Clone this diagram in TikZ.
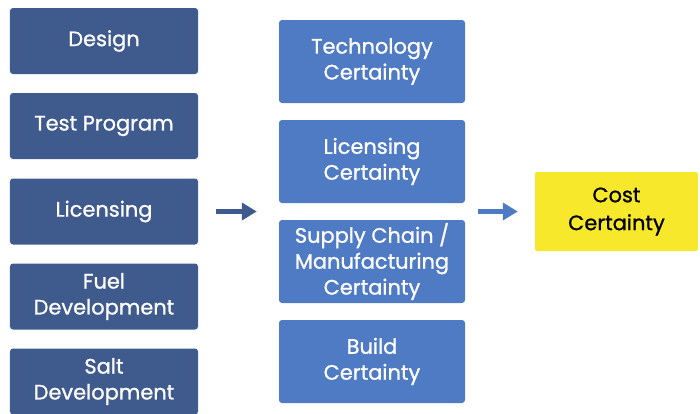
\documentclass[tikz,border=0pt]{standalone}
\usepackage{fontspec}
\setmainfont{Poppins}
\newfontfamily\kastenfont{Poppins}[FakeBold=0.9]
\usetikzlibrary{arrows.meta}

\definecolor{dunkelblau}{HTML}{3F5A8D}
\definecolor{hellblau}{HTML}{4F7BC4}
\definecolor{gelb}{HTML}{F8E82C}

\tikzset{
	schritt/.style={fill=dunkelblau, text=white, rounded corners=3bp, align=center,
		minimum width=188bp, minimum height=66bp, inner sep=0pt,
		font=\kastenfont\fontsize{21}{26}\selectfont},
	sicherheit/.style={fill=hellblau, text=white, rounded corners=3bp, align=center,
		minimum width=186bp, minimum height=83bp, inner sep=0pt,
		font=\kastenfont\fontsize{21}{26}\selectfont},
	ziel/.style={fill=gelb, text=black, rounded corners=2bp, align=center,
		minimum width=163bp, minimum height=79bp, inner sep=0pt,
		font=\kastenfont\fontsize{21}{28}\selectfont},
	pfeil/.style={line width=5bp, -{Triangle[length=15bp, width=17bp]}}
}

\begin{document}
\begin{tikzpicture}[x=1bp, y=-1bp]

		%Rahmen
		\useasboundingbox (0,0) rectangle (700,413);

		%Linke Spalte
		\node [schritt] (design) at (104,41) {Design};
		\node [schritt] (test) at (104,126) {Test Program};
		\node [schritt] (lic) at (104,211.5) {Licensing};
		\node [schritt] (fuel) at (104,296.5) {Fuel\\Development};
		\node [schritt] (salt) at (104,381.5) {Salt\\Development};

		%Mittlere Spalte
		\node [sicherheit] (tech) at (372,61.5) {Technology\\Certainty};
		\node [sicherheit] (licc) at (372,161.5) {Licensing\\Certainty};
		\node [sicherheit] (supply) at (372,261.5) {Supply Chain /\\Manufacturing\\Certainty};
		\node [sicherheit] (build) at (372,361.5) {Build\\Certainty};

		%Ergebnis
		\node [ziel] (cost) at (616.5,211.5) {Cost\\Certainty};

		%Pfeile
		\draw [pfeil, dunkelblau, shorten <=18bp, shorten >=22bp] (lic.east) -- (lic.east -| tech.west);
		\draw [pfeil, hellblau, shorten <=13bp, shorten >=17bp] (cost.west -| licc.east) -- (cost.west);

	\end{tikzpicture}
\end{document}
